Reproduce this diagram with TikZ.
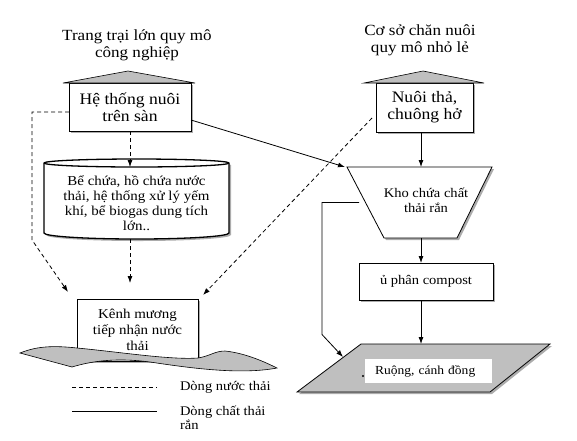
\documentclass[tikz,border=0pt]{standalone}
\usepackage{fontspec}
\setmainfont[FakeStretch=1.1]{Liberation Serif}
\usetikzlibrary{arrows.meta,calc,shadows}
\newcommand\fntT{\fontsize{15.5}{17}\selectfont}
\newcommand\fntH{\fontsize{16}{17}\selectfont}
\newcommand\fntC{\fontsize{13.6}{15}\selectfont}
\newcommand\fntK{\fontsize{13.6}{16}\selectfont}
\newcommand\fntS{\fontsize{13.2}{15}\selectfont}
\newcommand\fntR{\fontsize{12.3}{14}\selectfont}
\newcommand\fntL{\fontsize{13.2}{14}\selectfont}
\begin{document}
\begin{tikzpicture}[x=1pt,y=-1pt,line width=0.8pt,
  every node/.style={inner sep=0pt,outer sep=0pt,align=center},
  shd/.style={drop shadow={shadow xshift=2pt,shadow yshift=-2pt,fill=gray!65,opacity=1}},
  boxst/.style={draw,fill=white,shd},
  roof/.style={draw,fill=gray!50,line width=0.6pt},
  cyl/.style={draw,fill=white,line width=1.3pt,shd},
  water/.style={draw,fill=gray!50,line width=0.6pt},
  para/.style={draw,fill=gray!50,shd},
  wflow/.style={dash pattern=on 4pt off 3pt,-{Latex[length=7pt,width=5pt]}},
  sflow/.style={-{Latex[length=7pt,width=5pt]}}]
\useasboundingbox (0,0) rectangle (577,440);

% titles
\node[font=\fntT] (t1) at (137,45.5) {Trang trại lớn quy mô\\công nghiệp};
\node[font=\fntT] (t2) at (420,40) {Cơ sở chăn nuôi\\quy mô nhỏ lẻ};

% houses
\node[boxst,font=\fntH,minimum width=122pt,minimum height=48pt] (he) at (130,107) {Hệ thống nuôi\\trên sàn};
\node[boxst,font=\fntH,minimum width=97pt,minimum height=49pt] (nuoi) at (424.5,107.5) {Nuôi thả,\\chuông hở};
\draw[roof] ($(he.north west)+(-6,0)$) -- ($(he.north)+(-2,-12)$) -- ($(he.north east)+(4,0)$) -- cycle;
\draw[roof] ($(nuoi.north west)+(-12,0)$) -- ($(nuoi.north)+(-1.5,-12)$) -- ($(nuoi.north east)+(11,0)$) -- cycle;

% cylinder
\draw[cyl] (44,163) -- (44,233) arc[start angle=180,end angle=0,x radius=92.5,y radius=6]
  -- (229,163) arc[start angle=0,end angle=-180,x radius=92.5,y radius=4] -- cycle;
\draw[line width=1.3pt] (229,163) arc[start angle=0,end angle=180,x radius=92.5,y radius=4];
\node[font=\fntC,minimum width=185pt,minimum height=72pt] (be) at (136.5,203)
  {Bể chứa, hồ chứa nước\\thải, hệ thống xử lý yếm\\khí, bể biogas dung tích\\lớn..};

% canal
\node[boxst,font=\fntK,minimum width=121pt,minimum height=62pt] (ke) at (137.5,330) {Kênh mương\\tiếp nhận nước\\thải};
\draw[water] (20,353) .. controls (35,347) and (50,345) .. (77,348)
  .. controls (120,352) and (170,360) .. (198,358)
  .. controls (210,356) and (215,351) .. (225,351)
  .. controls (245,353) and (265,362) .. (277,368)
  .. controls (240,375) and (190,368) .. (150,362)
  .. controls (120,358) and (95,360) .. (72,367) -- cycle;

% storage
\node[minimum width=145pt,minimum height=71pt] (kho) at (419.5,202.5) {};
\draw[boxst] (kho.north west) -- (kho.north east) -- ($(kho.south east)+(-35,0)$) -- ($(kho.south west)+(37,0)$) -- cycle;
\node[font=\fntS] (khot) at (426,200.5) {Kho chứa chất\\thải rắn};

% compost
\node[boxst,font=\fntS,minimum width=134pt,minimum height=37pt] (comp) at (426,281.5) {ủ phân compost};

% field
\node[minimum width=253pt,minimum height=48pt] (ruong) at (423.5,368) {};
\draw[para] ($(ruong.north west)+(64,0)$) -- (ruong.north east) -- ($(ruong.south east)+(-60,0)$) -- (ruong.south west) -- cycle;
\node[fill=white,font=\fntR,text width=107pt,align=left,inner xsep=10pt,minimum height=24pt] (ruongt) at (428.5,371) {Ruộng, cánh đồng};
\fill (363,376) circle[radius=1.2];

% connectors
\coordinate (col) at (421,0);
\draw[sflow] (nuoi.south -| col) -- (kho.north -| col);
\draw[sflow] (kho.south -| col) -- (comp.north -| col);
\draw[sflow] (comp.south -| col) -- (ruong.north -| col);
\draw[sflow] ($(he.east)+(0,13)$) -- ($(kho.north west)+(-2,0)$);
\draw[sflow] ($(kho.west)+(12,0)$) -| ++(-37,132) -- ($(ruong.north west)+(46,13)$);
\draw[wflow] (he.south) -- (he.south |- be.north);
\draw[wflow] (he.south |- be.south) -- ($(he.south |- ke.north)+(0,-16)$);
\draw[wflow] ($(he.west)+(0,5)$) -| ++(-37,128) -- ($(ke.north west)+(-9,-7)$);
\draw[wflow] ($(nuoi.south west)+(-4,-14)$) -- ($(ke.north east)+(5,-4)$);

% legend
\node[font=\fntL,anchor=west] (lg1) at (180,387) {Dòng nước thải};
\node[font=\fntL,anchor=west,align=left] (lg2) at (180,418) {Dòng chất thải\\rắn};
\draw[dash pattern=on 4pt off 3pt] ($(lg1.west)+(-108,0)$) -- ($(lg1.west)+(-23,0)$);
\draw ($(lg2.west)+(-108,-7)$) -- ($(lg2.west)+(-23,-7)$);
\end{tikzpicture}
\end{document}
